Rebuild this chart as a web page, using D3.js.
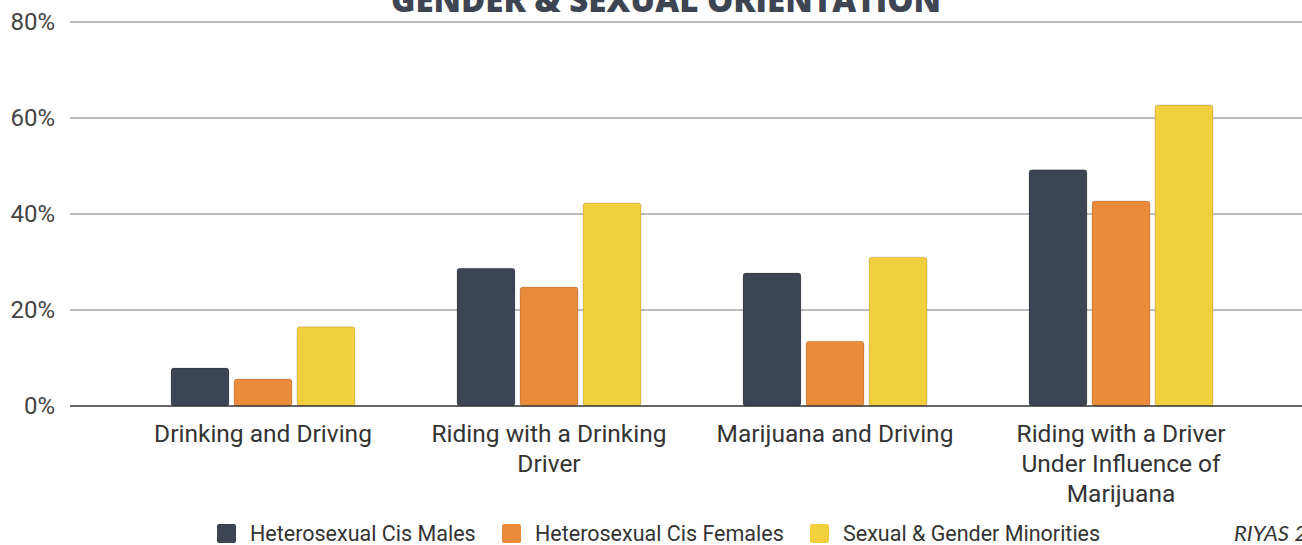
<!DOCTYPE html>
<html>
<head>
<meta charset="utf-8">
<script src="https://cdn.jsdelivr.net/npm/d3@7"></script>
<style>
  body { margin: 0; background: #fff; }
  svg { display: block; }
</style>
</head>
<body>
<div id="chart"></div>
<script>
// chart values
var categories = [
  ['Drinking and Driving'],
  ['Riding with a Drinking', 'Driver'],
  ['Marijuana and Driving'],
  ['Riding with a Driver', 'Under Influence of', 'Marijuana']
];
var seriesNames = ['Heterosexual Cis Males', 'Heterosexual Cis Females', 'Sexual & Gender Minorities'];
var males = [7.9, 28.7, 27.7, 49.2];
var females = [5.6, 24.8, 13.5, 42.7];
var minorities = [16.5, 42.3, 31.0, 62.7];
var yTicks = [0, 20, 40, 60, 80];
var colors = ['#3e4552', '#e98b3b', '#f2cf3c'];

var width = 1302, height = 545;
var plotLeft = 70, plotRight = 1302, plotTop = 22, plotBottom = 406;

var svg = d3.select('#chart').append('svg')
  .attr('width', width).attr('height', height);

var y = d3.scaleLinear().domain([0, 80]).range([plotBottom, plotTop]);
var x = d3.scaleBand().domain(d3.range(categories.length)).range([120, 1264]);
var inner = d3.scaleBand().domain(d3.range(3)).range([0, 184]).paddingInner(0.08);

// gridlines
svg.selectAll('.grid')
  .data(yTicks.filter(function(d) { return d > 0; }))
  .enter().append('line')
  .attr('x1', plotLeft).attr('x2', plotRight)
  .attr('y1', function(d) { return y(d); }).attr('y2', function(d) { return y(d); })
  .style('stroke', '#bcbcbc').style('stroke-width', 2);

// y labels
svg.selectAll('.ylab')
  .data(yTicks)
  .enter().append('text')
  .attr('x', 55).attr('y', function(d) { return y(d) + 8; })
  .attr('text-anchor', 'end')
  .style('font-family', 'Roboto, sans-serif').style('font-size', '24px').style('fill', '#444')
  .text(function(d) { return d + '%'; });

// bars
var series = [males, females, minorities];
series.forEach(function(vals, s) {
  svg.selectAll('.bar' + s)
    .data(vals)
    .enter().append('rect')
    .attr('x', function(d, i) { return x(i) + (x.bandwidth() - 184) / 2 + inner(s); })
    .attr('y', function(d) { return y(d); })
    .attr('width', inner.bandwidth())
    .attr('height', function(d) { return plotBottom - y(d); })
    .attr('rx', 3)
    .style('fill', colors[s])
    .style('stroke', 'rgba(0,0,0,0.15)').style('stroke-width', 1);
});

// baseline
svg.append('line')
  .attr('x1', plotLeft).attr('x2', plotRight)
  .attr('y1', plotBottom).attr('y2', plotBottom)
  .style('stroke', '#333').style('stroke-width', 1.5);

// category labels
categories.forEach(function(lines, i) {
  var t = svg.append('text')
    .attr('text-anchor', 'middle')
    .style('font-family', 'Roboto, sans-serif').style('font-size', '24.5px').style('fill', '#333');
  lines.forEach(function(line, j) {
    t.append('tspan')
      .attr('x', x(i) + x.bandwidth() / 2)
      .attr('y', 442 + j * 30)
      .text(line);
  });
});

// title (cut off at top)
svg.append('text')
  .attr('x', 666).attr('y', 12)
  .attr('text-anchor', 'middle')
  .style('font-family', '"Open Sans", sans-serif').style('font-weight', 800)
  .style('font-size', '33px').style('fill', '#3e4552')
  .text('GENDER & SEXUAL ORIENTATION');

// legend
var legendX = [217, 502, 810];
seriesNames.forEach(function(name, i) {
  svg.append('rect')
    .attr('x', legendX[i]).attr('y', 524)
    .attr('width', 19).attr('height', 19).attr('rx', 2)
    .style('fill', colors[i]);
  svg.append('text')
    .attr('x', legendX[i] + 33).attr('y', 541)
    .style('font-family', 'Roboto, sans-serif').style('font-size', '21.5px').style('fill', '#333')
    .text(name);
});

svg.append('text')
  .attr('x', 1234).attr('y', 541)
  .style('font-family', 'Lato, sans-serif').style('font-style', 'italic')
  .style('font-size', '22px').style('fill', '#333')
  .text('RIYAS 2019');
</script>
</body>
</html>
